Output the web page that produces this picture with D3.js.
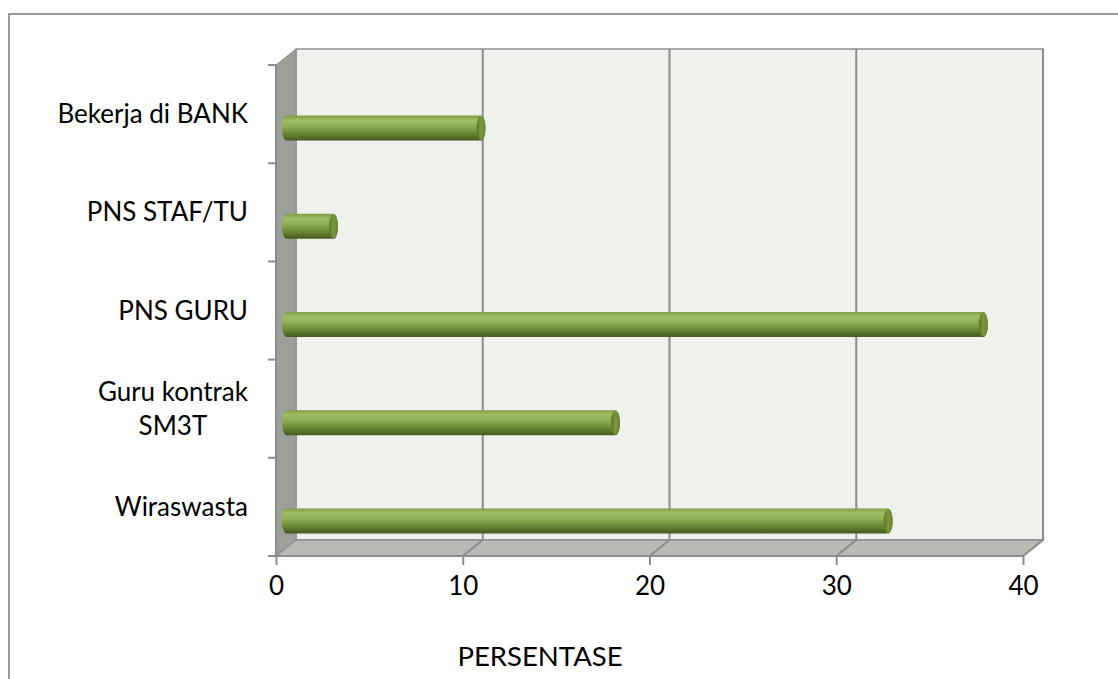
<!DOCTYPE html>
<html>
<head>
<meta charset="utf-8">
<script src="https://cdn.jsdelivr.net/npm/d3@7"></script>
<style>
  body { margin: 0; background: #fff; }
  svg { display: block; font-family: Lato, "Open Sans", sans-serif; }
</style>
</head>
<body>
<svg id="chart" width="1118" height="679"></svg>
<script>
// data
var categories = ['Bekerja di BANK', 'PNS STAF/TU', 'PNS GURU', 'Guru kontrak\nSM3T', 'Wiraswasta'];
var values = [10.9, 3.0, 37.8, 18.1, 32.7];
var xTicks = [0, 10, 20, 30, 40];
var xTitle = 'PERSENTASE';

var svg = d3.select('#chart');

// front plane of the 3d box, back plane is shifted by depth
var front = { left: 276, right: 1023, top: 65, bottom: 556 };
var depth = { dx: 20, dy: -16 };

var x = d3.scaleLinear().domain([0, 40]).range([front.left, front.right]);
var y = d3.scaleBand().domain(categories).range([front.top, front.bottom]);

// outer frame
svg.append('rect')
  .attr('x', 9).attr('y', 14)
  .attr('width', 1130).attr('height', 700)
  .attr('fill', 'none')
  .attr('stroke', '#9a9a9a')
  .attr('stroke-width', 2);

var defs = svg.append('defs');
var body = defs.append('linearGradient')
  .attr('id', 'barBody')
  .attr('x1', 0).attr('y1', 0).attr('x2', 0).attr('y2', 1);
[[0, '#7f9c40'], [0.18, '#9fbd62'], [0.42, '#8fad52'], [0.72, '#6a8634'], [1, '#45591f']]
  .forEach(function(s) {
    body.append('stop').attr('offset', s[0]).attr('stop-color', s[1]);
  });
var cap = defs.append('linearGradient')
  .attr('id', 'barCap')
  .attr('x1', 0).attr('y1', 0).attr('x2', 1).attr('y2', 0);
[[0, '#5a7428'], [0.5, '#7a983c'], [1, '#66822f']]
  .forEach(function(s) {
    cap.append('stop').attr('offset', s[0]).attr('stop-color', s[1]);
  });

var backL = front.left + depth.dx,
    backR = front.right + depth.dx,
    backT = front.top + depth.dy,
    backB = front.bottom + depth.dy;

// back wall
svg.append('rect')
  .attr('x', backL).attr('y', backT)
  .attr('width', backR - backL).attr('height', backB - backT)
  .attr('fill', '#eef1ec')
  .attr('stroke', '#8f8f8f')
  .attr('stroke-width', 1.5);

// left wall
svg.append('polygon')
  .attr('points', [[front.left, front.top], [backL, backT], [backL, backB], [front.left, front.bottom]].join(' '))
  .attr('fill', '#9d9f9b')
  .attr('stroke', '#8a8a8a')
  .attr('stroke-width', 1);

// floor
svg.append('polygon')
  .attr('points', [[front.left, front.bottom], [backL, backB], [backR, backB], [front.right, front.bottom]].join(' '))
  .attr('fill', '#b8bbb5')
  .attr('stroke', '#8f8f8f')
  .attr('stroke-width', 1.5);

// gridlines on back wall and floor
var grid = svg.append('g');
xTicks.slice(1).forEach(function(t) {
  var xb = x(t) + depth.dx;
  grid.append('polyline')
    .attr('points', [[xb, backT], [xb, backB], [x(t), front.bottom]].join(' '))
    .attr('fill', 'none')
    .attr('stroke', '#8c8c8c')
    .attr('stroke-width', 2);
});

// axis lines
svg.append('line')
  .attr('x1', front.left).attr('x2', front.left)
  .attr('y1', front.top).attr('y2', front.bottom)
  .attr('stroke', '#8c8c8c').attr('stroke-width', 2);
svg.append('line')
  .attr('x1', front.left).attr('x2', front.right)
  .attr('y1', front.bottom).attr('y2', front.bottom)
  .attr('stroke', '#8c8c8c').attr('stroke-width', 2);

// category ticks on band edges
var bandEdges = categories.map(function(c) { return y(c); }).concat([front.bottom]);
svg.append('g').selectAll('line')
  .data(bandEdges).enter()
  .append('line')
    .attr('x1', front.left - 8).attr('x2', front.left)
    .attr('y1', function(d) { return d; })
    .attr('y2', function(d) { return d; })
    .attr('stroke', '#8c8c8c').attr('stroke-width', 2);

// bottom axis
var xAxis = svg.append('g')
  .attr('transform', 'translate(0,' + front.bottom + ')')
  .call(d3.axisBottom(x).tickValues(xTicks).tickSize(9).tickPadding(12).tickSizeOuter(0));
xAxis.select('.domain').remove();
xAxis.selectAll('.tick line').attr('stroke', '#8c8c8c').attr('stroke-width', 2);
xAxis.selectAll('.tick text')
  .attr('font-size', 26)
  .attr('font-family', 'Lato, sans-serif')
  .attr('fill', '#000');

svg.append('text')
  .attr('x', 540).attr('y', 666)
  .attr('text-anchor', 'middle')
  .attr('font-size', 27.5)
  .attr('fill', '#000')
  .text(xTitle);

// category labels, right aligned; wrapped lines centred within the block
var labelRight = 248;
var labels = svg.append('g');
categories.forEach(function(c) {
  var lines = c.split('\n');
  var cy = y(c) + y.bandwidth() / 2;
  var g = labels.append('g');
  var lh = 34;
  var texts = lines.map(function(l, i) {
    return g.append('text')
      .attr('y', cy + (i - (lines.length - 1) / 2) * lh + 9)
      .attr('font-size', 26)
      .attr('fill', '#000')
      .text(l);
  });
  var w = d3.max(texts, function(t) { return t.node().getComputedTextLength(); });
  texts.forEach(function(t) {
    t.attr('x', labelRight - w / 2).attr('text-anchor', 'middle');
  });
});

// cylinders, sitting partway into the depth
var r = 12.5, rx = 4.5, shift = 14, inset = 6;
var bars = svg.append('g').selectAll('g')
  .data(categories.map(function(c, i) { return { cat: c, v: values[i] }; }))
  .enter().append('g');

bars.append('path')
  .attr('fill', 'url(#barBody)')
  .attr('d', function(d) {
    var x0 = x(0) + inset + rx,
        x1 = x(d.v) + inset - rx,
        cy = y(d.cat) + y.bandwidth() / 2 + shift;
    return 'M' + x0 + ',' + (cy - r) +
      'L' + x1 + ',' + (cy - r) +
      'A' + rx + ',' + r + ' 0 0 1 ' + x1 + ',' + (cy + r) +
      'L' + x0 + ',' + (cy + r) +
      'A' + rx + ',' + r + ' 0 0 1 ' + x0 + ',' + (cy - r) + 'Z';
  });

bars.append('ellipse')
  .attr('cx', function(d) { return x(d.v) + inset - rx; })
  .attr('cy', function(d) { return y(d.cat) + y.bandwidth() / 2 + shift; })
  .attr('rx', rx).attr('ry', r - 0.5)
  .attr('fill', 'url(#barCap)');
</script>
</body>
</html>
